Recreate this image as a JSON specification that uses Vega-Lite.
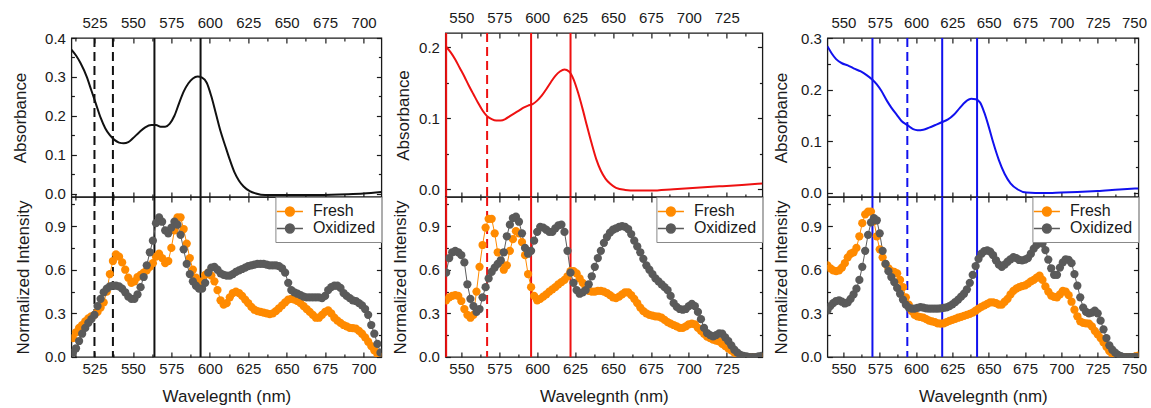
{
"$schema": "https://vega.github.io/schema/vega-lite/v6.json",
"background": "white",
"padding": {"left": 10.4, "top": 5, "right": 0, "bottom": 0},
"spacing": 7,
"config": {
  "view": {"stroke": "#1a1a1a", "strokeWidth": 1.3},
  "axis": {"domain": false, "grid": false, "tickColor": "#1a1a1a", "tickWidth": 1.2, "labelFont": "Liberation Sans", "labelFontSize": 15, "labelColor": "#1a1a1a", "titleFont": "Liberation Sans", "titleFontSize": 17, "titleFontWeight": "normal", "titleColor": "#1a1a1a", "labelFlush": false, "labelOverlap": false},
  "legend": {"title": null, "orient": "top-right", "offset": 0, "padding": 5.5, "strokeColor": "#888", "fillColor": "#fff", "labelFontSize": 16, "labelFont": "Liberation Sans", "labelColor": "#1a1a1a", "symbolType": "M-1.63,0L1.63,0M-0.55,0A0.55,0.55 0 1,0 0.55,0A0.55,0.55 0 1,0 -0.55,0Z", "symbolSize": 256, "symbolStrokeWidth": 1.5, "rowPadding": 0, "labelOffset": 14, "cornerRadius": 0}
},
"datasets": {
  "r1": [{"w":525,"d":"dash"},{"w":537,"d":"dash"},{"w":564,"d":"solid"},{"w":594,"d":"solid"}],
  "r2": [{"w":540,"d":"solid"},{"w":567,"d":"dash"},{"w":596,"d":"solid"},{"w":622,"d":"solid"}],
  "r3": [{"w":570,"d":"solid"},{"w":594,"d":"dash"},{"w":618,"d":"solid"},{"w":642,"d":"solid"}],
  "a1": [{"w":510,"v":0.37},{"w":513,"v":0.355},{"w":516,"v":0.335},{"w":520,"v":0.3},{"w":523,"v":0.265},{"w":526,"v":0.23},{"w":529,"v":0.195},{"w":532,"v":0.168},{"w":535,"v":0.15},{"w":538,"v":0.138},{"w":541,"v":0.131},{"w":544,"v":0.129},{"w":547,"v":0.132},{"w":550,"v":0.142},{"w":554,"v":0.157},{"w":558,"v":0.17},{"w":562,"v":0.176},{"w":565,"v":0.176},{"w":568,"v":0.172},{"w":571,"v":0.172},{"w":574,"v":0.18},{"w":577,"v":0.2},{"w":580,"v":0.232},{"w":583,"v":0.262},{"w":586,"v":0.283},{"w":589,"v":0.296},{"w":592,"v":0.301},{"w":595,"v":0.298},{"w":598,"v":0.285},{"w":601,"v":0.25},{"w":604,"v":0.205},{"w":607,"v":0.16},{"w":610,"v":0.123},{"w":613,"v":0.087},{"w":616,"v":0.055},{"w":619,"v":0.033},{"w":622,"v":0.018},{"w":626,"v":0.006},{"w":630,"v":0.0},{"w":636,"v":-0.004},{"w":650,"v":-0.004},{"w":670,"v":-0.004},{"w":690,"v":-0.002},{"w":700,"v":0.0},{"w":711.6,"v":0.004}],
  "a2": [{"w":540,"v":0.201},{"w":543,"v":0.193},{"w":546,"v":0.183},{"w":549,"v":0.171},{"w":552,"v":0.159},{"w":555,"v":0.146},{"w":558,"v":0.134},{"w":561,"v":0.122},{"w":564,"v":0.111},{"w":567,"v":0.103},{"w":570,"v":0.099},{"w":573,"v":0.097},{"w":576,"v":0.097},{"w":579,"v":0.099},{"w":582,"v":0.103},{"w":585,"v":0.107},{"w":588,"v":0.111},{"w":591,"v":0.115},{"w":594,"v":0.118},{"w":597,"v":0.12},{"w":600,"v":0.125},{"w":603,"v":0.132},{"w":606,"v":0.141},{"w":609,"v":0.151},{"w":612,"v":0.16},{"w":615,"v":0.166},{"w":618,"v":0.169},{"w":621,"v":0.166},{"w":624,"v":0.155},{"w":627,"v":0.136},{"w":630,"v":0.113},{"w":633,"v":0.088},{"w":636,"v":0.064},{"w":639,"v":0.042},{"w":642,"v":0.026},{"w":645,"v":0.015},{"w":648,"v":0.008},{"w":652,"v":0.002},{"w":658,"v":-0.001},{"w":665,"v":-0.002},{"w":675,"v":-0.002},{"w":690,"v":0.0},{"w":705,"v":0.002},{"w":720,"v":0.004},{"w":735,"v":0.006},{"w":748.5,"v":0.008}],
  "a3": [{"w":539,"v":0.284},{"w":542,"v":0.27},{"w":545,"v":0.259},{"w":549,"v":0.251},{"w":553,"v":0.247},{"w":557,"v":0.241},{"w":562,"v":0.235},{"w":566,"v":0.228},{"w":570,"v":0.219},{"w":573,"v":0.21},{"w":576,"v":0.198},{"w":580,"v":0.178},{"w":583,"v":0.165},{"w":587,"v":0.15},{"w":590,"v":0.139},{"w":594,"v":0.131},{"w":598,"v":0.123},{"w":601,"v":0.121},{"w":605,"v":0.122},{"w":609,"v":0.126},{"w":614,"v":0.132},{"w":618,"v":0.137},{"w":622,"v":0.142},{"w":626,"v":0.151},{"w":630,"v":0.164},{"w":634,"v":0.176},{"w":638,"v":0.182},{"w":641,"v":0.181},{"w":644,"v":0.175},{"w":647,"v":0.155},{"w":650,"v":0.128},{"w":653,"v":0.098},{"w":657,"v":0.063},{"w":661,"v":0.036},{"w":665,"v":0.018},{"w":670,"v":0.006},{"w":676,"v":0.0},{"w":688,"v":-0.001},{"w":700,"v":0.0},{"w":711,"v":0.001},{"w":725,"v":0.003},{"w":740,"v":0.006},{"w":753,"v":0.008}],
  "s1": [{"w":511,"Fresh":0.13,"Oxidized":0.03},{"w":513,"Fresh":0.17,"Oxidized":0.06},{"w":515,"Fresh":0.2,"Oxidized":0.11},{"w":517,"Fresh":0.22,"Oxidized":0.16},{"w":519,"Fresh":0.245,"Oxidized":0.2},{"w":521,"Fresh":0.265,"Oxidized":0.235},{"w":523,"Fresh":0.28,"Oxidized":0.26},{"w":525,"Fresh":0.29,"Oxidized":0.29},{"w":527,"Fresh":0.31,"Oxidized":0.35},{"w":529,"Fresh":0.34,"Oxidized":0.4},{"w":531,"Fresh":0.375,"Oxidized":0.445},{"w":533,"Fresh":0.45,"Oxidized":0.47},{"w":535,"Fresh":0.57,"Oxidized":0.485},{"w":537,"Fresh":0.66,"Oxidized":0.49},{"w":539,"Fresh":0.705,"Oxidized":0.49},{"w":541,"Fresh":0.69,"Oxidized":0.485},{"w":543,"Fresh":0.65,"Oxidized":0.47},{"w":545,"Fresh":0.6,"Oxidized":0.445},{"w":547,"Fresh":0.545,"Oxidized":0.415},{"w":549,"Fresh":0.51,"Oxidized":0.4},{"w":551,"Fresh":0.52,"Oxidized":0.4},{"w":553,"Fresh":0.55,"Oxidized":0.43},{"w":555,"Fresh":0.565,"Oxidized":0.48},{"w":557,"Fresh":0.58,"Oxidized":0.55},{"w":559,"Fresh":0.595,"Oxidized":0.63},{"w":561,"Fresh":0.62,"Oxidized":0.72},{"w":563,"Fresh":0.645,"Oxidized":0.8},{"w":565,"Fresh":0.69,"Oxidized":0.92},{"w":567,"Fresh":0.71,"Oxidized":0.96},{"w":569,"Fresh":0.68,"Oxidized":0.93},{"w":571,"Fresh":0.645,"Oxidized":0.87},{"w":573,"Fresh":0.66,"Oxidized":0.85},{"w":575,"Fresh":0.75,"Oxidized":0.89},{"w":577,"Fresh":0.87,"Oxidized":0.93},{"w":579,"Fresh":0.96,"Oxidized":0.91},{"w":581,"Fresh":0.96,"Oxidized":0.84},{"w":583,"Fresh":0.88,"Oxidized":0.74},{"w":585,"Fresh":0.78,"Oxidized":0.64},{"w":587,"Fresh":0.68,"Oxidized":0.57},{"w":589,"Fresh":0.6,"Oxidized":0.52},{"w":591,"Fresh":0.545,"Oxidized":0.49},{"w":593,"Fresh":0.51,"Oxidized":0.47},{"w":595,"Fresh":0.52,"Oxidized":0.47},{"w":597,"Fresh":0.565,"Oxidized":0.51},{"w":599,"Fresh":0.58,"Oxidized":0.58},{"w":601,"Fresh":0.56,"Oxidized":0.615},{"w":603,"Fresh":0.52,"Oxidized":0.62},{"w":605,"Fresh":0.46,"Oxidized":0.6},{"w":607,"Fresh":0.39,"Oxidized":0.575},{"w":609,"Fresh":0.36,"Oxidized":0.565},{"w":611,"Fresh":0.37,"Oxidized":0.56},{"w":613,"Fresh":0.41,"Oxidized":0.56},{"w":615,"Fresh":0.44,"Oxidized":0.57},{"w":617,"Fresh":0.45,"Oxidized":0.585},{"w":619,"Fresh":0.44,"Oxidized":0.595},{"w":621,"Fresh":0.42,"Oxidized":0.605},{"w":623,"Fresh":0.395,"Oxidized":0.615},{"w":625,"Fresh":0.37,"Oxidized":0.625},{"w":627,"Fresh":0.345,"Oxidized":0.63},{"w":629,"Fresh":0.325,"Oxidized":0.635},{"w":631,"Fresh":0.315,"Oxidized":0.64},{"w":633,"Fresh":0.31,"Oxidized":0.64},{"w":635,"Fresh":0.305,"Oxidized":0.64},{"w":637,"Fresh":0.3,"Oxidized":0.635},{"w":639,"Fresh":0.295,"Oxidized":0.63},{"w":641,"Fresh":0.3,"Oxidized":0.63},{"w":643,"Fresh":0.315,"Oxidized":0.63},{"w":645,"Fresh":0.335,"Oxidized":0.625},{"w":647,"Fresh":0.355,"Oxidized":0.61},{"w":649,"Fresh":0.375,"Oxidized":0.58},{"w":651,"Fresh":0.395,"Oxidized":0.51},{"w":653,"Fresh":0.4,"Oxidized":0.46},{"w":655,"Fresh":0.395,"Oxidized":0.445},{"w":657,"Fresh":0.385,"Oxidized":0.435},{"w":659,"Fresh":0.37,"Oxidized":0.425},{"w":661,"Fresh":0.35,"Oxidized":0.415},{"w":663,"Fresh":0.33,"Oxidized":0.41},{"w":665,"Fresh":0.31,"Oxidized":0.41},{"w":667,"Fresh":0.29,"Oxidized":0.41},{"w":669,"Fresh":0.27,"Oxidized":0.41},{"w":671,"Fresh":0.27,"Oxidized":0.41},{"w":673,"Fresh":0.29,"Oxidized":0.405},{"w":675,"Fresh":0.31,"Oxidized":0.42},{"w":677,"Fresh":0.32,"Oxidized":0.46},{"w":679,"Fresh":0.3,"Oxidized":0.48},{"w":681,"Fresh":0.27,"Oxidized":0.49},{"w":683,"Fresh":0.25,"Oxidized":0.49},{"w":685,"Fresh":0.235,"Oxidized":0.475},{"w":687,"Fresh":0.22,"Oxidized":0.44},{"w":689,"Fresh":0.21,"Oxidized":0.42},{"w":691,"Fresh":0.2,"Oxidized":0.405},{"w":693,"Fresh":0.198,"Oxidized":0.39},{"w":695,"Fresh":0.195,"Oxidized":0.385},{"w":697,"Fresh":0.18,"Oxidized":0.37},{"w":699,"Fresh":0.16,"Oxidized":0.355},{"w":701,"Fresh":0.135,"Oxidized":0.33},{"w":703,"Fresh":0.105,"Oxidized":0.29},{"w":705,"Fresh":0.075,"Oxidized":0.22},{"w":707,"Fresh":0.045,"Oxidized":0.16},{"w":709,"Fresh":0.02,"Oxidized":0.09},{"w":711,"Fresh":0.0,"Oxidized":0.03}],
  "s2": [{"w":540,"Fresh":0.39,"Oxidized":0.58},{"w":542,"Fresh":0.41,"Oxidized":0.68},{"w":544,"Fresh":0.42,"Oxidized":0.72},{"w":546,"Fresh":0.425,"Oxidized":0.73},{"w":548,"Fresh":0.42,"Oxidized":0.72},{"w":550,"Fresh":0.385,"Oxidized":0.7},{"w":552,"Fresh":0.33,"Oxidized":0.65},{"w":554,"Fresh":0.29,"Oxidized":0.5},{"w":556,"Fresh":0.27,"Oxidized":0.4},{"w":558,"Fresh":0.29,"Oxidized":0.35},{"w":560,"Fresh":0.45,"Oxidized":0.31},{"w":562,"Fresh":0.62,"Oxidized":0.33},{"w":564,"Fresh":0.77,"Oxidized":0.41},{"w":566,"Fresh":0.89,"Oxidized":0.48},{"w":568,"Fresh":0.95,"Oxidized":0.54},{"w":570,"Fresh":0.95,"Oxidized":0.585},{"w":572,"Fresh":0.85,"Oxidized":0.615},{"w":574,"Fresh":0.72,"Oxidized":0.64},{"w":576,"Fresh":0.65,"Oxidized":0.665},{"w":578,"Fresh":0.6,"Oxidized":0.72},{"w":580,"Fresh":0.63,"Oxidized":0.83},{"w":582,"Fresh":0.73,"Oxidized":0.91},{"w":584,"Fresh":0.81,"Oxidized":0.955},{"w":586,"Fresh":0.865,"Oxidized":0.965},{"w":588,"Fresh":0.85,"Oxidized":0.93},{"w":590,"Fresh":0.79,"Oxidized":0.85},{"w":592,"Fresh":0.7,"Oxidized":0.75},{"w":594,"Fresh":0.57,"Oxidized":0.71},{"w":596,"Fresh":0.48,"Oxidized":0.73},{"w":598,"Fresh":0.42,"Oxidized":0.8},{"w":600,"Fresh":0.39,"Oxidized":0.86},{"w":602,"Fresh":0.4,"Oxidized":0.895},{"w":604,"Fresh":0.415,"Oxidized":0.89},{"w":606,"Fresh":0.43,"Oxidized":0.875},{"w":608,"Fresh":0.45,"Oxidized":0.86},{"w":610,"Fresh":0.465,"Oxidized":0.86},{"w":612,"Fresh":0.48,"Oxidized":0.885},{"w":614,"Fresh":0.5,"Oxidized":0.905},{"w":616,"Fresh":0.515,"Oxidized":0.91},{"w":618,"Fresh":0.53,"Oxidized":0.86},{"w":620,"Fresh":0.555,"Oxidized":0.73},{"w":622,"Fresh":0.59,"Oxidized":0.58},{"w":624,"Fresh":0.59,"Oxidized":0.51},{"w":626,"Fresh":0.575,"Oxidized":0.46},{"w":628,"Fresh":0.54,"Oxidized":0.435},{"w":630,"Fresh":0.51,"Oxidized":0.445},{"w":632,"Fresh":0.48,"Oxidized":0.46},{"w":634,"Fresh":0.455,"Oxidized":0.5},{"w":636,"Fresh":0.45,"Oxidized":0.555},{"w":638,"Fresh":0.45,"Oxidized":0.62},{"w":640,"Fresh":0.455,"Oxidized":0.68},{"w":642,"Fresh":0.455,"Oxidized":0.73},{"w":644,"Fresh":0.45,"Oxidized":0.785},{"w":646,"Fresh":0.44,"Oxidized":0.825},{"w":648,"Fresh":0.425,"Oxidized":0.855},{"w":650,"Fresh":0.41,"Oxidized":0.875},{"w":652,"Fresh":0.405,"Oxidized":0.885},{"w":654,"Fresh":0.415,"Oxidized":0.895},{"w":656,"Fresh":0.43,"Oxidized":0.9},{"w":658,"Fresh":0.445,"Oxidized":0.895},{"w":660,"Fresh":0.445,"Oxidized":0.88},{"w":662,"Fresh":0.425,"Oxidized":0.845},{"w":664,"Fresh":0.4,"Oxidized":0.8},{"w":666,"Fresh":0.37,"Oxidized":0.76},{"w":668,"Fresh":0.34,"Oxidized":0.72},{"w":670,"Fresh":0.315,"Oxidized":0.675},{"w":672,"Fresh":0.3,"Oxidized":0.63},{"w":674,"Fresh":0.29,"Oxidized":0.6},{"w":676,"Fresh":0.285,"Oxidized":0.57},{"w":678,"Fresh":0.28,"Oxidized":0.54},{"w":680,"Fresh":0.278,"Oxidized":0.52},{"w":682,"Fresh":0.27,"Oxidized":0.5},{"w":684,"Fresh":0.255,"Oxidized":0.48},{"w":686,"Fresh":0.24,"Oxidized":0.46},{"w":688,"Fresh":0.23,"Oxidized":0.42},{"w":690,"Fresh":0.22,"Oxidized":0.37},{"w":692,"Fresh":0.21,"Oxidized":0.345},{"w":694,"Fresh":0.2,"Oxidized":0.33},{"w":696,"Fresh":0.2,"Oxidized":0.325},{"w":698,"Fresh":0.21,"Oxidized":0.33},{"w":700,"Fresh":0.225,"Oxidized":0.35},{"w":702,"Fresh":0.23,"Oxidized":0.365},{"w":704,"Fresh":0.225,"Oxidized":0.35},{"w":706,"Fresh":0.2,"Oxidized":0.31},{"w":708,"Fresh":0.18,"Oxidized":0.26},{"w":710,"Fresh":0.16,"Oxidized":0.2},{"w":712,"Fresh":0.14,"Oxidized":0.165},{"w":714,"Fresh":0.13,"Oxidized":0.15},{"w":716,"Fresh":0.12,"Oxidized":0.142},{"w":718,"Fresh":0.112,"Oxidized":0.15},{"w":720,"Fresh":0.108,"Oxidized":0.162},{"w":722,"Fresh":0.09,"Oxidized":0.16},{"w":724,"Fresh":0.075,"Oxidized":0.135},{"w":726,"Fresh":0.06,"Oxidized":0.11},{"w":728,"Fresh":0.045,"Oxidized":0.08},{"w":730,"Fresh":0.03,"Oxidized":0.05},{"w":732,"Fresh":0.015,"Oxidized":0.03},{"w":734,"Fresh":0.005,"Oxidized":0.015},{"w":736,"Fresh":0.0,"Oxidized":0.008},{"w":738,"Fresh":0.0,"Oxidized":0.005},{"w":740,"Fresh":0.0,"Oxidized":0.0},{"w":742,"Fresh":0.0,"Oxidized":0.0},{"w":744,"Fresh":0.0,"Oxidized":0.0},{"w":746,"Fresh":0.0,"Oxidized":0.005},{"w":748,"Fresh":0.0,"Oxidized":0.008}],
  "s3": [{"w":539,"Fresh":0.63,"Oxidized":0.32},{"w":541,"Fresh":0.61,"Oxidized":0.35},{"w":543,"Fresh":0.595,"Oxidized":0.37},{"w":545,"Fresh":0.59,"Oxidized":0.385},{"w":547,"Fresh":0.595,"Oxidized":0.39},{"w":549,"Fresh":0.615,"Oxidized":0.38},{"w":551,"Fresh":0.645,"Oxidized":0.368},{"w":553,"Fresh":0.685,"Oxidized":0.375},{"w":555,"Fresh":0.71,"Oxidized":0.4},{"w":557,"Fresh":0.72,"Oxidized":0.43},{"w":559,"Fresh":0.75,"Oxidized":0.47},{"w":561,"Fresh":0.83,"Oxidized":0.53},{"w":563,"Fresh":0.92,"Oxidized":0.62},{"w":565,"Fresh":0.98,"Oxidized":0.73},{"w":567,"Fresh":1.0,"Oxidized":0.84},{"w":569,"Fresh":1.0,"Oxidized":0.925},{"w":571,"Fresh":0.935,"Oxidized":0.955},{"w":573,"Fresh":0.83,"Oxidized":0.94},{"w":575,"Fresh":0.74,"Oxidized":0.85},{"w":577,"Fresh":0.685,"Oxidized":0.73},{"w":579,"Fresh":0.64,"Oxidized":0.64},{"w":581,"Fresh":0.61,"Oxidized":0.59},{"w":583,"Fresh":0.59,"Oxidized":0.55},{"w":585,"Fresh":0.585,"Oxidized":0.515},{"w":587,"Fresh":0.575,"Oxidized":0.475},{"w":589,"Fresh":0.53,"Oxidized":0.435},{"w":591,"Fresh":0.48,"Oxidized":0.395},{"w":593,"Fresh":0.41,"Oxidized":0.36},{"w":595,"Fresh":0.36,"Oxidized":0.34},{"w":597,"Fresh":0.315,"Oxidized":0.332},{"w":599,"Fresh":0.29,"Oxidized":0.332},{"w":601,"Fresh":0.28,"Oxidized":0.338},{"w":603,"Fresh":0.275,"Oxidized":0.343},{"w":605,"Fresh":0.27,"Oxidized":0.34},{"w":607,"Fresh":0.26,"Oxidized":0.334},{"w":609,"Fresh":0.25,"Oxidized":0.332},{"w":611,"Fresh":0.245,"Oxidized":0.332},{"w":613,"Fresh":0.24,"Oxidized":0.332},{"w":615,"Fresh":0.232,"Oxidized":0.333},{"w":617,"Fresh":0.229,"Oxidized":0.335},{"w":619,"Fresh":0.232,"Oxidized":0.338},{"w":621,"Fresh":0.24,"Oxidized":0.342},{"w":623,"Fresh":0.248,"Oxidized":0.35},{"w":625,"Fresh":0.255,"Oxidized":0.362},{"w":627,"Fresh":0.262,"Oxidized":0.378},{"w":629,"Fresh":0.27,"Oxidized":0.395},{"w":631,"Fresh":0.276,"Oxidized":0.415},{"w":633,"Fresh":0.283,"Oxidized":0.435},{"w":635,"Fresh":0.29,"Oxidized":0.465},{"w":637,"Fresh":0.297,"Oxidized":0.51},{"w":639,"Fresh":0.305,"Oxidized":0.565},{"w":641,"Fresh":0.318,"Oxidized":0.625},{"w":643,"Fresh":0.333,"Oxidized":0.675},{"w":645,"Fresh":0.345,"Oxidized":0.71},{"w":647,"Fresh":0.355,"Oxidized":0.728},{"w":649,"Fresh":0.365,"Oxidized":0.733},{"w":651,"Fresh":0.375,"Oxidized":0.725},{"w":653,"Fresh":0.375,"Oxidized":0.7},{"w":655,"Fresh":0.37,"Oxidized":0.665},{"w":657,"Fresh":0.36,"Oxidized":0.635},{"w":659,"Fresh":0.36,"Oxidized":0.62},{"w":661,"Fresh":0.38,"Oxidized":0.635},{"w":663,"Fresh":0.4,"Oxidized":0.655},{"w":665,"Fresh":0.43,"Oxidized":0.672},{"w":667,"Fresh":0.455,"Oxidized":0.686},{"w":669,"Fresh":0.47,"Oxidized":0.68},{"w":671,"Fresh":0.48,"Oxidized":0.667},{"w":673,"Fresh":0.488,"Oxidized":0.664},{"w":675,"Fresh":0.492,"Oxidized":0.67},{"w":677,"Fresh":0.505,"Oxidized":0.68},{"w":679,"Fresh":0.52,"Oxidized":0.71},{"w":681,"Fresh":0.53,"Oxidized":0.745},{"w":683,"Fresh":0.545,"Oxidized":0.77},{"w":685,"Fresh":0.56,"Oxidized":0.788},{"w":687,"Fresh":0.53,"Oxidized":0.78},{"w":689,"Fresh":0.485,"Oxidized":0.735},{"w":691,"Fresh":0.45,"Oxidized":0.67},{"w":693,"Fresh":0.422,"Oxidized":0.61},{"w":695,"Fresh":0.414,"Oxidized":0.565},{"w":697,"Fresh":0.41,"Oxidized":0.565},{"w":699,"Fresh":0.43,"Oxidized":0.615},{"w":701,"Fresh":0.455,"Oxidized":0.65},{"w":703,"Fresh":0.45,"Oxidized":0.672},{"w":705,"Fresh":0.425,"Oxidized":0.668},{"w":707,"Fresh":0.38,"Oxidized":0.645},{"w":709,"Fresh":0.325,"Oxidized":0.57},{"w":711,"Fresh":0.28,"Oxidized":0.49},{"w":713,"Fresh":0.245,"Oxidized":0.41},{"w":715,"Fresh":0.235,"Oxidized":0.34},{"w":717,"Fresh":0.232,"Oxidized":0.31},{"w":719,"Fresh":0.229,"Oxidized":0.3},{"w":721,"Fresh":0.21,"Oxidized":0.305},{"w":723,"Fresh":0.18,"Oxidized":0.318},{"w":725,"Fresh":0.155,"Oxidized":0.3},{"w":727,"Fresh":0.13,"Oxidized":0.25},{"w":729,"Fresh":0.1,"Oxidized":0.19},{"w":731,"Fresh":0.07,"Oxidized":0.13},{"w":733,"Fresh":0.04,"Oxidized":0.08},{"w":735,"Fresh":0.02,"Oxidized":0.05},{"w":737,"Fresh":0.008,"Oxidized":0.03},{"w":739,"Fresh":0.003,"Oxidized":0.015},{"w":741,"Fresh":0.0,"Oxidized":0.006},{"w":743,"Fresh":0.0,"Oxidized":0.0},{"w":745,"Fresh":0.0,"Oxidized":0.0},{"w":747,"Fresh":0.0,"Oxidized":0.0},{"w":749,"Fresh":0.0,"Oxidized":0.0},{"w":751,"Fresh":0.005,"Oxidized":0.0},{"w":753,"Fresh":0.01,"Oxidized":0.0}]
},
"resolve": {"scale": {"x": "independent", "y": "independent", "color": "independent", "strokeDash": "independent"}, "legend": {"color": "independent"}},
"hconcat": [
 {"vconcat": [
  {"width": 310, "height": 33, "data": {"values": [{}]}, "mark": {"type": "point", "opacity": 0}, "view": {"stroke": null}},
  {"width": 310, "height": 159,
   "layer": [
    {"data": {"name": "r1"}, "mark": {"type": "rule", "strokeWidth": 2, "color": "#111"},
     "encoding": {"x": {"field": "w", "type": "quantitative", "scale": {"domain": [510, 711.6], "nice": false, "zero": false}, "axis": {"orient": "bottom", "values": [512.5,525,537.5,550,562.5,575,587.5,600,612.5,625,637.5,650,662.5,675,687.5,700], "labels": false, "title": null, "tickSize": {"condition": {"test": "datum.value % 25 === 0", "value": -5}, "value": -3}}},
      "strokeDash": {"field": "d", "type": "nominal", "scale": {"domain": ["solid","dash"], "range": [[1,0],[9,5]]}, "legend": null}}},
    {"data": {"name": "a1"}, "mark": {"type": "line", "color": "#111", "strokeWidth": 2, "interpolate": "monotone", "clip": true},
     "encoding": {"x": {"field": "w", "type": "quantitative", "axis": {"orient": "top", "values": [512.5,525,537.5,550,562.5,575,587.5,600,612.5,625,637.5,650,662.5,675,687.5,700], "labelExpr": "datum.value % 25 === 0 ? format(datum.value, 'd') : ''", "title": null, "labelPadding": 13, "tickSize": {"condition": {"test": "datum.value % 25 === 0", "value": -5}, "value": -3}}},
      "y": {"field": "v", "type": "quantitative", "scale": {"domain": [-0.009, 0.4], "nice": false, "zero": false}, "axis": {"orient": "left", "values": [0,0.05,0.1,0.15,0.2,0.25,0.3,0.35,0.4], "labelExpr": "abs(datum.value*10 - round(datum.value*10)) < 0.001 ? format(datum.value, '.1f') : ''", "title": "Absorbance", "labelPadding": 11, "titlePadding": 15, "tickSize": {"condition": {"test": "abs(datum.value*10 - round(datum.value*10)) < 0.001", "value": -5}, "value": -3}}}}},
    {"data": {"name": "a1"}, "mark": {"type": "line", "opacity": 0},
     "encoding": {"y": {"field": "v", "type": "quantitative", "axis": {"orient": "right", "values": [0,0.05,0.1,0.15,0.2,0.25,0.3,0.35,0.4], "labels": false, "title": null, "tickSize": {"condition": {"test": "abs(datum.value*10 - round(datum.value*10)) < 0.001", "value": -5}, "value": -3}}}}}
   ],
   "resolve": {"axis": {"x": "independent", "y": "independent"}}},
  {"width": 310, "height": 160,
   "layer": [
    {"data": {"name": "r1"}, "mark": {"type": "rule", "strokeWidth": 2, "color": "#111"},
     "encoding": {"x": {"field": "w", "type": "quantitative", "scale": {"domain": [510, 711.6], "nice": false, "zero": false}, "axis": {"orient": "top", "values": [512.5,525,537.5,550,562.5,575,587.5,600,612.5,625,637.5,650,662.5,675,687.5,700], "labels": false, "title": null, "tickSize": {"condition": {"test": "datum.value % 25 === 0", "value": -5}, "value": -3}}},
      "strokeDash": {"field": "d", "type": "nominal", "scale": {"domain": ["solid","dash"], "range": [[1,0],[9,5]]}, "legend": null}}},
    {"data": {"name": "s1"}, "transform": [{"fold": ["Fresh","Oxidized"], "as": ["s","v"]}], "mark": {"type": "line", "strokeWidth": 1, "clip": true},
     "encoding": {"x": {"field": "w", "type": "quantitative", "axis": {"orient": "bottom", "values": [512.5,525,537.5,550,562.5,575,587.5,600,612.5,625,637.5,650,662.5,675,687.5,700], "labelExpr": "datum.value % 25 === 0 ? format(datum.value, 'd') : ''", "title": "Wavelegnth (nm)", "labelPadding": 10, "titlePadding": 10, "tickSize": {"condition": {"test": "datum.value % 25 === 0", "value": -5}, "value": -3}}},
      "y": {"field": "v", "type": "quantitative", "scale": {"domain": [0, 1.1], "nice": false, "zero": false}, "axis": {"orient": "left", "values": [0,0.15,0.3,0.45,0.6,0.75,0.9,1.05], "labelExpr": "abs(datum.value/0.3 - round(datum.value/0.3)) < 0.001 ? format(datum.value, '.1f') : ''", "title": "Normalized Intensity", "labelPadding": 11, "titlePadding": 12, "tickSize": {"condition": {"test": "abs(datum.value/0.3 - round(datum.value/0.3)) < 0.001", "value": -5}, "value": -3}}},
      "color": {"field": "s", "type": "nominal", "scale": {"domain": ["Fresh","Oxidized"], "range": ["#FF8A00","#5A5A5A"]}}}},
    {"data": {"name": "s1"}, "transform": [{"fold": ["Fresh","Oxidized"], "as": ["s","v"]}], "mark": {"type": "point", "filled": true, "size": 68, "opacity": 1, "clip": true},
     "encoding": {"x": {"field": "w", "type": "quantitative", "axis": null},
      "y": {"field": "v", "type": "quantitative", "axis": {"orient": "right", "values": [0,0.15,0.3,0.45,0.6,0.75,0.9,1.05], "labels": false, "title": null, "tickSize": {"condition": {"test": "abs(datum.value/0.3 - round(datum.value/0.3)) < 0.001", "value": -5}, "value": -3}}},
      "color": {"field": "s", "type": "nominal"},
      "order": {"field": "s"}}}
   ],
   "resolve": {"axis": {"x": "independent", "y": "independent"}}}
 ], "spacing": 0, "bounds": "flush",
 "resolve": {"scale": {"x": "independent", "y": "independent", "color": "independent", "strokeDash": "independent"}, "legend": {"color": "independent"}}},

 {"vconcat": [
  {"width": 317, "height": 28, "data": {"values": [{}]}, "mark": {"type": "point", "opacity": 0}, "view": {"stroke": null}},
  {"width": 317, "height": 164,
   "layer": [
    {"data": {"name": "r2"}, "mark": {"type": "rule", "strokeWidth": 2, "color": "#EE1111"},
     "encoding": {"x": {"field": "w", "type": "quantitative", "scale": {"domain": [539.5, 748.5], "nice": false, "zero": false}, "axis": {"orient": "bottom", "values": [550,562.5,575,587.5,600,612.5,625,637.5,650,662.5,675,687.5,700,712.5,725,737.5], "labels": false, "title": null, "tickSize": {"condition": {"test": "datum.value % 25 === 0", "value": -5}, "value": -3}}},
      "strokeDash": {"field": "d", "type": "nominal", "scale": {"domain": ["solid","dash"], "range": [[1,0],[9,5]]}, "legend": null}}},
    {"data": {"name": "a2"}, "mark": {"type": "line", "color": "#EE1111", "strokeWidth": 2, "interpolate": "monotone", "clip": true},
     "encoding": {"x": {"field": "w", "type": "quantitative", "axis": {"orient": "top", "values": [550,562.5,575,587.5,600,612.5,625,637.5,650,662.5,675,687.5,700,712.5,725,737.5], "labelExpr": "datum.value % 25 === 0 ? format(datum.value, 'd') : ''", "title": null, "labelPadding": 13, "tickSize": {"condition": {"test": "datum.value % 25 === 0", "value": -5}, "value": -3}}},
      "y": {"field": "v", "type": "quantitative", "scale": {"domain": [-0.011, 0.2204], "nice": false, "zero": false}, "axis": {"orient": "left", "values": [0,0.05,0.1,0.15,0.2], "labelExpr": "abs(datum.value*10 - round(datum.value*10)) < 0.001 ? format(datum.value, '.1f') : ''", "title": "Absorbance", "labelPadding": 11, "titlePadding": 6, "tickSize": {"condition": {"test": "abs(datum.value*10 - round(datum.value*10)) < 0.001", "value": -5}, "value": -3}}}}},
    {"data": {"name": "a2"}, "mark": {"type": "line", "opacity": 0},
     "encoding": {"y": {"field": "v", "type": "quantitative", "axis": {"orient": "right", "values": [0,0.05,0.1,0.15,0.2], "labels": false, "title": null, "tickSize": {"condition": {"test": "abs(datum.value*10 - round(datum.value*10)) < 0.001", "value": -5}, "value": -3}}}}}
   ],
   "resolve": {"axis": {"x": "independent", "y": "independent"}}},
  {"width": 317, "height": 160,
   "layer": [
    {"data": {"name": "r2"}, "mark": {"type": "rule", "strokeWidth": 2, "color": "#EE1111"},
     "encoding": {"x": {"field": "w", "type": "quantitative", "scale": {"domain": [539.5, 748.5], "nice": false, "zero": false}, "axis": {"orient": "top", "values": [550,562.5,575,587.5,600,612.5,625,637.5,650,662.5,675,687.5,700,712.5,725,737.5], "labels": false, "title": null, "tickSize": {"condition": {"test": "datum.value % 25 === 0", "value": -5}, "value": -3}}},
      "strokeDash": {"field": "d", "type": "nominal", "scale": {"domain": ["solid","dash"], "range": [[1,0],[9,5]]}, "legend": null}}},
    {"data": {"name": "s2"}, "transform": [{"fold": ["Fresh","Oxidized"], "as": ["s","v"]}], "mark": {"type": "line", "strokeWidth": 1, "clip": true},
     "encoding": {"x": {"field": "w", "type": "quantitative", "axis": {"orient": "bottom", "values": [550,562.5,575,587.5,600,612.5,625,637.5,650,662.5,675,687.5,700,712.5,725,737.5], "labelExpr": "datum.value % 25 === 0 ? format(datum.value, 'd') : ''", "title": "Wavelegnth (nm)", "labelPadding": 10, "titlePadding": 10, "tickSize": {"condition": {"test": "datum.value % 25 === 0", "value": -5}, "value": -3}}},
      "y": {"field": "v", "type": "quantitative", "scale": {"domain": [0, 1.1], "nice": false, "zero": false}, "axis": {"orient": "left", "values": [0,0.15,0.3,0.45,0.6,0.75,0.9,1.05], "labelExpr": "abs(datum.value/0.3 - round(datum.value/0.3)) < 0.001 ? format(datum.value, '.1f') : ''", "title": "Normalized Intensity", "labelPadding": 11, "titlePadding": 9, "tickSize": {"condition": {"test": "abs(datum.value/0.3 - round(datum.value/0.3)) < 0.001", "value": -5}, "value": -3}}},
      "color": {"field": "s", "type": "nominal", "scale": {"domain": ["Fresh","Oxidized"], "range": ["#FF8A00","#5A5A5A"]}}}},
    {"data": {"name": "s2"}, "transform": [{"fold": ["Fresh","Oxidized"], "as": ["s","v"]}], "mark": {"type": "point", "filled": true, "size": 68, "opacity": 1, "clip": true},
     "encoding": {"x": {"field": "w", "type": "quantitative", "axis": null},
      "y": {"field": "v", "type": "quantitative", "axis": {"orient": "right", "values": [0,0.15,0.3,0.45,0.6,0.75,0.9,1.05], "labels": false, "title": null, "tickSize": {"condition": {"test": "abs(datum.value/0.3 - round(datum.value/0.3)) < 0.001", "value": -5}, "value": -3}}},
      "color": {"field": "s", "type": "nominal"},
      "order": {"field": "s"}}}
   ],
   "resolve": {"axis": {"x": "independent", "y": "independent"}}}
 ], "spacing": 0, "bounds": "flush",
 "resolve": {"scale": {"x": "independent", "y": "independent", "color": "independent", "strokeDash": "independent"}, "legend": {"color": "independent"}}},

 {"vconcat": [
  {"width": 311, "height": 33, "data": {"values": [{}]}, "mark": {"type": "point", "opacity": 0}, "view": {"stroke": null}},
  {"width": 311, "height": 159,
   "layer": [
    {"data": {"name": "r3"}, "mark": {"type": "rule", "strokeWidth": 2, "color": "#1111EE"},
     "encoding": {"x": {"field": "w", "type": "quantitative", "scale": {"domain": [539, 753], "nice": false, "zero": false}, "axis": {"orient": "bottom", "values": [550,562.5,575,587.5,600,612.5,625,637.5,650,662.5,675,687.5,700,712.5,725,737.5,750], "labels": false, "title": null, "tickSize": {"condition": {"test": "datum.value % 25 === 0", "value": -5}, "value": -3}}},
      "strokeDash": {"field": "d", "type": "nominal", "scale": {"domain": ["solid","dash"], "range": [[1,0],[9,5]]}, "legend": null}}},
    {"data": {"name": "a3"}, "mark": {"type": "line", "color": "#1111EE", "strokeWidth": 2, "interpolate": "monotone", "clip": true},
     "encoding": {"x": {"field": "w", "type": "quantitative", "axis": {"orient": "top", "values": [550,562.5,575,587.5,600,612.5,625,637.5,650,662.5,675,687.5,700,712.5,725,737.5,750], "labelExpr": "datum.value % 25 === 0 ? format(datum.value, 'd') : ''", "title": null, "labelPadding": 13, "tickSize": {"condition": {"test": "datum.value % 25 === 0", "value": -5}, "value": -3}}},
      "y": {"field": "v", "type": "quantitative", "scale": {"domain": [-0.0086, 0.3], "nice": false, "zero": false}, "axis": {"orient": "left", "values": [0,0.05,0.1,0.15,0.2,0.25,0.3], "labelExpr": "abs(datum.value*10 - round(datum.value*10)) < 0.001 ? format(datum.value, '.1f') : ''", "title": "Absorbance", "labelPadding": 11, "titlePadding": 10, "tickSize": {"condition": {"test": "abs(datum.value*10 - round(datum.value*10)) < 0.001", "value": -5}, "value": -3}}}}},
    {"data": {"name": "a3"}, "mark": {"type": "line", "opacity": 0},
     "encoding": {"y": {"field": "v", "type": "quantitative", "axis": {"orient": "right", "values": [0,0.05,0.1,0.15,0.2,0.25,0.3], "labels": false, "title": null, "tickSize": {"condition": {"test": "abs(datum.value*10 - round(datum.value*10)) < 0.001", "value": -5}, "value": -3}}}}}
   ],
   "resolve": {"axis": {"x": "independent", "y": "independent"}}},
  {"width": 311, "height": 160,
   "layer": [
    {"data": {"name": "r3"}, "mark": {"type": "rule", "strokeWidth": 2, "color": "#1111EE"},
     "encoding": {"x": {"field": "w", "type": "quantitative", "scale": {"domain": [539, 753], "nice": false, "zero": false}, "axis": {"orient": "top", "values": [550,562.5,575,587.5,600,612.5,625,637.5,650,662.5,675,687.5,700,712.5,725,737.5,750], "labels": false, "title": null, "tickSize": {"condition": {"test": "datum.value % 25 === 0", "value": -5}, "value": -3}}},
      "strokeDash": {"field": "d", "type": "nominal", "scale": {"domain": ["solid","dash"], "range": [[1,0],[9,5]]}, "legend": null}}},
    {"data": {"name": "s3"}, "transform": [{"fold": ["Fresh","Oxidized"], "as": ["s","v"]}], "mark": {"type": "line", "strokeWidth": 1, "clip": true},
     "encoding": {"x": {"field": "w", "type": "quantitative", "axis": {"orient": "bottom", "values": [550,562.5,575,587.5,600,612.5,625,637.5,650,662.5,675,687.5,700,712.5,725,737.5,750], "labelExpr": "datum.value % 25 === 0 ? format(datum.value, 'd') : ''", "title": "Wavelegnth (nm)", "labelPadding": 10, "titlePadding": 10, "tickSize": {"condition": {"test": "datum.value % 25 === 0", "value": -5}, "value": -3}}},
      "y": {"field": "v", "type": "quantitative", "scale": {"domain": [0, 1.1], "nice": false, "zero": false}, "axis": {"orient": "left", "values": [0,0.15,0.3,0.45,0.6,0.75,0.9,1.05], "labelExpr": "abs(datum.value/0.3 - round(datum.value/0.3)) < 0.001 ? format(datum.value, '.1f') : ''", "title": "Normalized Intensity", "labelPadding": 11, "titlePadding": 10, "tickSize": {"condition": {"test": "abs(datum.value/0.3 - round(datum.value/0.3)) < 0.001", "value": -5}, "value": -3}}},
      "color": {"field": "s", "type": "nominal", "scale": {"domain": ["Fresh","Oxidized"], "range": ["#FF8A00","#5A5A5A"]}}}},
    {"data": {"name": "s3"}, "transform": [{"fold": ["Fresh","Oxidized"], "as": ["s","v"]}], "mark": {"type": "point", "filled": true, "size": 68, "opacity": 1, "clip": true},
     "encoding": {"x": {"field": "w", "type": "quantitative", "axis": null},
      "y": {"field": "v", "type": "quantitative", "axis": {"orient": "right", "values": [0,0.15,0.3,0.45,0.6,0.75,0.9,1.05], "labels": false, "title": null, "tickSize": {"condition": {"test": "abs(datum.value/0.3 - round(datum.value/0.3)) < 0.001", "value": -5}, "value": -3}}},
      "color": {"field": "s", "type": "nominal"},
      "order": {"field": "s"}}}
   ],
   "resolve": {"axis": {"x": "independent", "y": "independent"}}}
 ], "spacing": 0, "bounds": "flush",
 "resolve": {"scale": {"x": "independent", "y": "independent", "color": "independent", "strokeDash": "independent"}, "legend": {"color": "independent"}}}
]
}
